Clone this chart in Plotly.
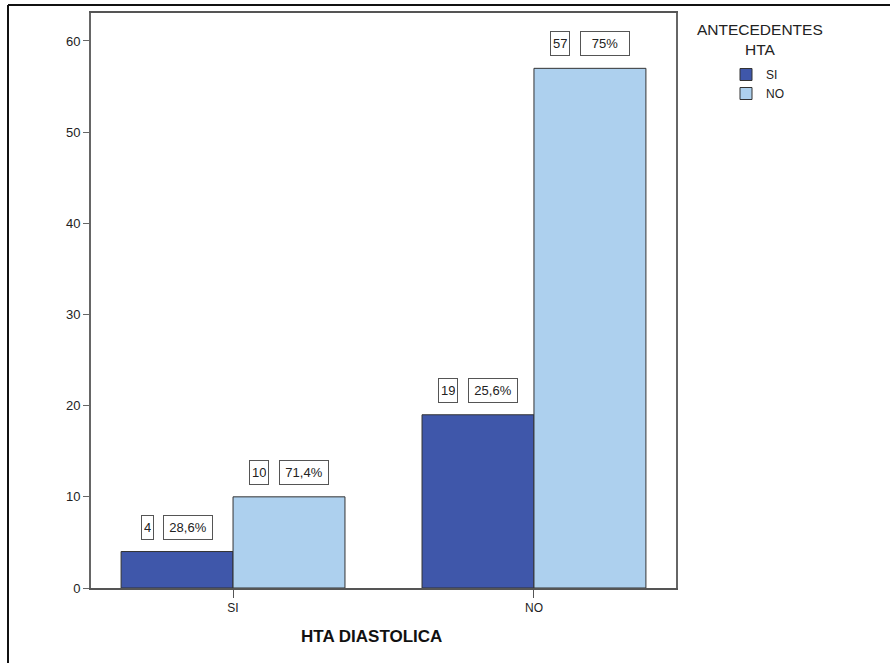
import plotly.graph_objects as go

# Categories on the x axis (HTA DIASTOLICA) and the two series (ANTECEDENTES HTA)
categories = ["SI", "NO"]
series_names = ["SI", "NO"]
counts_si = [4, 19]
counts_no = [10, 57]
pct_si = ["28,6%", "25,6%"]
pct_no = ["71,4%", "75%"]

colors = {"SI": "#3F57AA", "NO": "#ADD0EE"}
FONT = "Arial, 'Liberation Sans', sans-serif"

W, H = 890, 663
ML, MR, MT, MB = 91, 214, 13, 75
plot_w = W - ML - MR
plot_h = H - MT - MB

fig = go.Figure()
for name, vals in zip(series_names, [counts_si, counts_no]):
    fig.add_trace(go.Bar(
        x=categories, y=vals, name=name,
        marker=dict(color=colors[name], line=dict(color="#333333", width=1)),
        hoverinfo="skip",
    ))

x_range = [-0.472, 1.472]
y_range = [0, 63.07]
px_per_cat = plot_w / (x_range[1] - x_range[0])
bargap = 0.256
bar_w_px = (1 - bargap) / 2 * px_per_cat

LABEL_SIZE = 13


def text_w(s, size=LABEL_SIZE):
    widths = {",": 0.278, "%": 0.889}
    return sum(widths.get(c, 0.556) for c in s) * size


def px_x(px):
    return (px - ML) / plot_w


def px_y(py):
    return (H - MB - py) / plot_h


# Value labels: a count box and a percentage box, centred together above each bar
annotations = []
PCT_BOX = 50
GAP = 9
for si, (name, vals, pcts) in enumerate(zip(series_names, [counts_si, counts_no], [pct_si, pct_no])):
    offset = (-0.5 if si == 0 else 0.5) * bar_w_px
    for ci, cat in enumerate(categories):
        cnt = str(vals[ci])
        cw = text_w(cnt) + 2 * 2 + 2
        total = cw + GAP + PCT_BOX
        left = offset - total / 2
        common = dict(x=cat, y=vals[ci], xref="x", yref="y", yanchor="bottom",
                      yshift=12, showarrow=False,
                      font=dict(family=FONT, size=LABEL_SIZE, color="#222222"),
                      bordercolor="#555555", borderwidth=1, bgcolor="white",
                      height=19)
        annotations.append(dict(text=cnt, xanchor="left", xshift=left,
                                borderpad=2, **common))
        annotations.append(dict(text=pcts[ci], xanchor="left",
                                xshift=left + cw + GAP, width=PCT_BOX - 6,
                                borderpad=2, **common))

# Axis title
annotations.append(dict(text="<b>HTA DIASTOLICA</b>", x=px_x(371), y=px_y(636),
                        xref="paper", yref="paper", xanchor="center", yanchor="middle",
                        showarrow=False, font=dict(family=FONT, size=17, color="#111111")))
# Legend title
annotations.append(dict(text="ANTECEDENTES<br>HTA", x=px_x(760), y=px_y(39),
                        xref="paper", yref="paper", xanchor="center", yanchor="middle",
                        align="center", showarrow=False,
                        font=dict(family=FONT, size=15.5, color="#222222")))

# Outer frame (left and top edges)
shapes = [
    dict(type="line", xref="paper", yref="paper",
         x0=px_x(8), x1=px_x(W + 5), y0=px_y(5), y1=px_y(5),
         line=dict(color="#111111", width=2)),
    dict(type="line", xref="paper", yref="paper",
         x0=px_x(8), x1=px_x(8), y0=px_y(5), y1=px_y(H + 5),
         line=dict(color="#111111", width=2)),
]

fig.update_layout(
    width=W, height=H,
    margin=dict(l=ML, r=MR, t=MT, b=MB, pad=0),
    paper_bgcolor="white", plot_bgcolor="white",
    barmode="group", bargap=bargap, bargroupgap=0,
    font=dict(family=FONT, size=12, color="#222222"),
    showlegend=True,
    legend=dict(x=px_x(726), y=px_y(60),
                xanchor="left", yanchor="top",
                font=dict(family=FONT, size=12, color="#222222"),
                itemwidth=30, tracegroupgap=0, bgcolor="rgba(0,0,0,0)"),
    annotations=annotations,
    shapes=shapes,
)
fig.update_xaxes(range=x_range, showgrid=False, showline=True, linecolor="#555555",
                 linewidth=1.5, mirror=True, ticks="outside", ticklen=8,
                 tickcolor="#555555", tickfont=dict(size=12, color="#222222"),
                 zeroline=False, fixedrange=True)
fig.update_yaxes(range=y_range, showgrid=False, showline=True, linecolor="#666666",
                 linewidth=2, mirror=True, ticks="outside", ticklen=6,
                 tickcolor="#666666", tickfont=dict(size=13, color="#222222"),
                 tickvals=[0, 10, 20, 30, 40, 50, 60], zeroline=False, fixedrange=True)

fig.write_html("out.html", config={"displayModeBar": False})
